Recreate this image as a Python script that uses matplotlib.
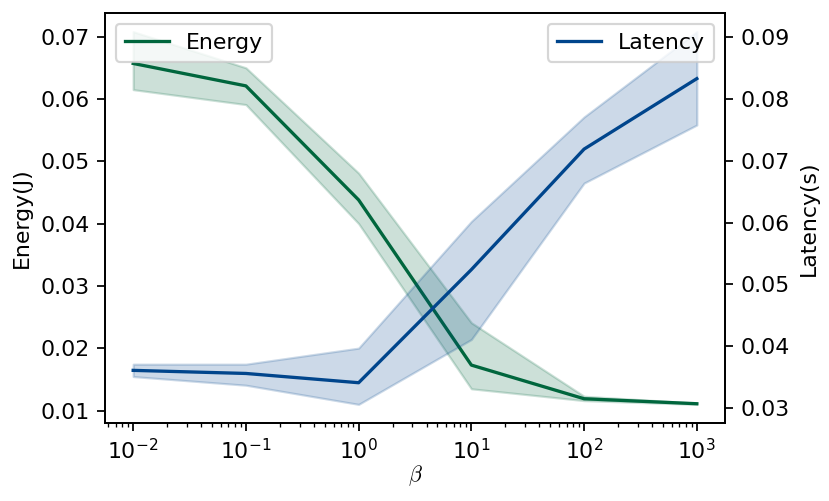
import numpy as np
from matplotlib import pyplot as plt

plt.rcParams["mathtext.fontset"] = "cm"

beta = [1e-2, 1e-1, 1e0, 1e1, 1e2, 1e3]

energy = [0.0657, 0.0621, 0.0438, 0.0173, 0.0119, 0.0111]
energy_lo = [0.0615, 0.0591, 0.0400, 0.0135, 0.0116, 0.0110]
energy_hi = [0.0708, 0.0650, 0.0481, 0.0241, 0.0123, 0.0112]

latency = [0.0361, 0.0356, 0.0341, 0.0524, 0.0719, 0.0833]
latency_lo = [0.0351, 0.0337, 0.0306, 0.0411, 0.0664, 0.0758]
latency_hi = [0.0371, 0.0371, 0.0397, 0.0602, 0.0771, 0.0909]

green = "#00663d"
blue = "#00458c"

dpi = 158
fig, ax = plt.subplots(figsize=(830 / dpi, 501 / dpi), dpi=dpi)
fig.subplots_adjust(left=0.1265, right=0.8735, top=0.974, bottom=0.1557)

ax.plot(beta, energy, color=green, label="Energy")
ax.fill_between(beta, energy_lo, energy_hi, color=green, alpha=0.2)
ax.set_xscale("log")
ax.set_xlabel(r"$\beta$", labelpad=0)
ax.set_ylabel("Energy(J)")
ax.legend(loc="upper left")

ax2 = ax.twinx()
ax2.plot(beta, latency, color=blue, label="Latency")
ax2.fill_between(beta, latency_lo, latency_hi, color=blue, alpha=0.2)
ax2.set_ylabel("Latency(s)")
ax2.legend(loc="upper right")

plt.savefig("out.png", dpi=dpi)
plt.close()
